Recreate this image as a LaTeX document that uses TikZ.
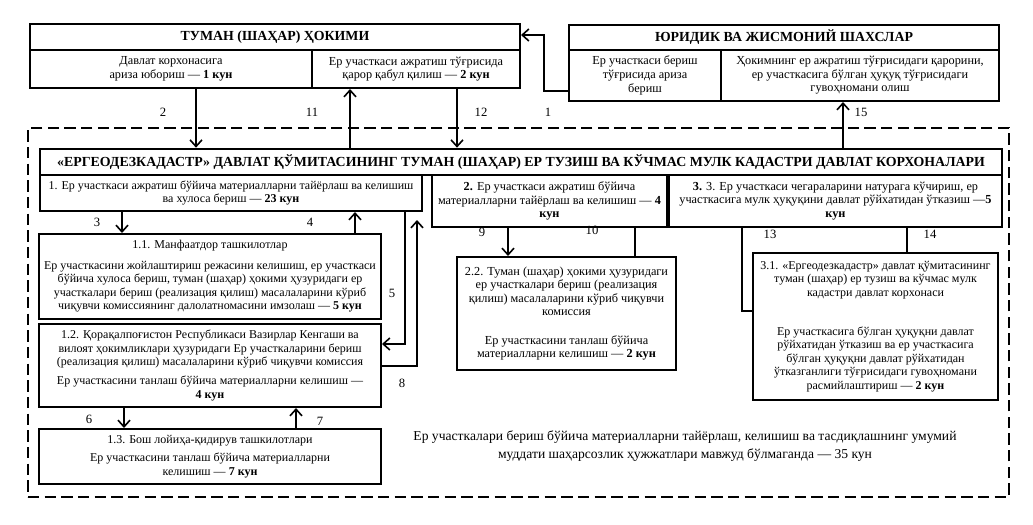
\documentclass[tikz,border=0pt]{standalone}
\usepackage{fontspec}
\setmainfont{Liberation Serif}
\usetikzlibrary{fit,arrows.meta,calc}
\begin{document}
\begin{tikzpicture}[x=0.75pt,y=-0.75pt,
  font=\fontsize{9}{10.2}\selectfont,
  box/.style={draw, line width=1.5pt, inner sep=0pt},
  txt/.style={align=center, inner sep=0pt, anchor=center},
  wtxt/.style={txt, font=\fontsize{9.2}{10.2}\selectfont},
  ttl/.style={txt, font=\fontsize{10.4}{12}\selectfont\bfseries},
  arr/.style={line width=1.2pt, -{Straight Barb[length=5pt,width=9pt,line width=1.2pt]}},
  ln/.style={line width=1.2pt},
  lbl/.style={inner sep=0pt, font=\fontsize{9.5}{11}\selectfont},
  frame/.style={draw, line width=1.5pt, dash pattern=on 8.5pt off 4pt, inner sep=0pt}]

\useasboundingbox (0,0) rectangle (1033,525);

% outer dashed frame
\node[frame, fit={(28,128)(1009,497)}] (frm) {};

% top left: district khokim
\node[box, fit={(30,24)(520,50)}] (hk) {};
\node[ttl] (hkt) at (hk.center) {ТУМАН (ШАҲАР) ҲОКИМИ};
\node[box, fit={(30,50)(312,88)}] (hk1) {};
\node[wtxt] (hk1t) at (hk1.center) {Давлат корхонасига\\ариза юбориш — \textbf{1 кун}};
\node[box, fit={(312,50)(520,88)}] (hk2) {};
\node[wtxt] (hk2t) at (hk2.center) {Ер участкаси ажратиш тўғрисида\\қарор қабул қилиш — \textbf{2 кун}};

% top right: legal and natural persons
\node[box, fit={(569,25)(999,50)}] (jr) {};
\node[ttl] (jrt) at (jr.center) {ЮРИДИК ВА ЖИСМОНИЙ ШАХСЛАР};
\node[box, fit={(569,50)(721,101)}] (jr1) {};
\node[wtxt] (jr1t) at (jr1.center) {Ер участкаси бериш\\тўғрисида ариза\\бериш};
\node[box, fit={(721,50)(999,101)}] (jr2) {};
\node[wtxt] (jr2t) at (jr2.center) {Ҳокимнинг ер ажратиш тўғрисидаги қарорини,\\ер участкасига бўлган ҳуқуқ тўғрисидаги\\гувоҳномани олиш};

% header
\node[box, line width=2pt, fit={(40,149)(1002,175)}] (hdr) {};
\node[ttl] (hdrt) at (hdr.center) {«ЕРГЕОДЕЗКАДАСТР» ДАВЛАТ ҚЎМИТАСИНИНГ ТУМАН (ШАҲАР) ЕР ТУЗИШ ВА КЎЧМАС МУЛК КАДАСТРИ ДАВЛАТ КОРХОНАЛАРИ};

% stage boxes
\node[box, fit={(40,175)(422,211)}] (b1) {};
\node[txt] (b1t) at (b1.center) {1. Ер участкаси ажратиш бўйича материалларни тайёрлаш ва келишиш\\ва хулоса бериш — \textbf{23 кун}};
\node[box, fit={(432,175)(667,227)}] (b2) {};
\node[wtxt] (b2t) at (b2.center) {\textbf{2.} Ер участкаси ажратиш бўйича\\материалларни тайёрлаш ва келишиш — \textbf{4}\\\textbf{кун}};
\node[box, fit={(669,175)(1002,227)}] (b3) {};
\node[wtxt] (b3t) at (b3.center) {\textbf{3.} 3. Ер участкаси чегараларини натурага кўчириш, ер\\участкасига мулк ҳуқуқини давлат рўйхатидан ўтказиш —\textbf{5}\\\textbf{кун}};

\node[box, fit={(39,234)(381,319)}] (b11) {};
\node[txt] (b11t) at (b11.center) {1.1. Манфаатдор ташкилотлар\\[5pt]Ер участкасини жойлаштириш режасини келишиш, ер участкаси\\бўйича хулоса бериш, туман (шаҳар) ҳокими ҳузуридаги ер\\участкалари бериш (реализация қилиш) масалаларини кўриб\\чиқувчи комиссиянинг далолатномасини имзолаш — \textbf{5 кун}};
\node[box, fit={(39,324)(381,407)}] (b12) {};
\node[txt] (b12t) at (b12.center) {1.2. Қорақалпоғистон Республикаси Вазирлар Кенгаши ва\\вилоят ҳокимликлари ҳузуридаги Ер участкаларини бериш\\(реализация қилиш) масалаларини кўриб чиқувчи комиссия\\[4pt]Ер участкасини танлаш бўйича материалларни келишиш —\\\textbf{4 кун}};
\node[box, fit={(39,429)(381,484)}] (b13) {};
\node[txt] (b13t) at (b13.center) {1.3. Бош лойиҳа-қидирув ташкилотлари\\[4pt]Ер участкасини танлаш бўйича материалларни\\келишиш — \textbf{7 кун}};

\node[box, fit={(457,257)(676,370)}] (b22) {};
\node[wtxt] (b22t) at (b22.center) {2.2. Туман (шаҳар) ҳокими ҳузуридаги\\ер участкалари бериш (реализация\\қилиш) масалаларини кўриб чиқувчи\\комиссия\\[11pt]Ер участкасини танлаш бўйича\\материалларни келишиш — \textbf{2 кун}};

\node[box, fit={(753,253)(998,400)}] (b31) {};
\node[txt] (b31t) at (b31.center) {3.1. «Ергеодезкадастр» давлат қўмитасининг\\туман (шаҳар) ер тузиш ва кўчмас мулк\\кадастри давлат корхонаси\\[19pt]Ер участкасига бўлган ҳуқуқни давлат\\рўйхатидан ўтказиш ва ер участкасига\\бўлган ҳуқуқни давлат рўйхатидан\\ўтказганлиги тўғрисидаги гувоҳномани\\расмийлаштириш — \textbf{2 кун}};

% total duration note
\node[txt, font=\fontsize{10.2}{13.2}\selectfont] (note) at (685,446) {Ер участкалари бериш бўйича материалларни тайёрлаш, келишиш ва тасдиқлашнинг умумий\\муддати шаҳарсозлик ҳужжатлари мавжуд бўлмаганда — 35 кун};

% connectors
\draw[arr] (jr1.west |- 0,91) -- (544,91) -- (544,35) -- (hk.east |- 0,35);
\draw[arr] (hk1.south -| 196,0) -- (hdr.north -| 196,0);
\draw[arr] (hdr.north -| 350,0) -- (hk2.south -| 350,0);
\draw[arr] (hk2.south -| 457,0) -- (hdr.north -| 457,0);
\draw[arr] (hdr.north -| 843,0) -- (jr2.south -| 843,0);

\draw[arr] (b1.south -| 122,0) -- (b11.north -| 122,0);
\draw[arr] (b11.north -| 355,0) -- (b1.south -| 355,0);
\draw[arr] (b1.south -| 405,0) -- (405,344) -- (b12.east |- 0,344);
\draw[arr, shorten >=6pt] (b12.east |- 0,366) -- (417,366) -- (b1.south -| 417,0);
\draw[arr] (b12.south -| 124,0) -- (b13.north -| 124,0);
\draw[arr] (b13.north -| 296,0) -- (b12.south -| 296,0);

\draw[arr] (b2.south -| 508,0) -- (b22.north -| 508,0);
\draw[ln] (b22.north -| 635,0) -- (b2.south -| 635,0);
\draw[ln] (b3.south -| 742,0) -- (742,311) -- (b31.west |- 0,311);
\draw[ln] (b3.south -| 907,0) -- (b31.north -| 907,0);

% connector numbers
\node[lbl] (n1) at (548,112) {1};
\node[lbl] (n2) at (163,112) {2};
\node[lbl] (n11) at (312,112) {11};
\node[lbl] (n12) at (481,112) {12};
\node[lbl] (n15) at (861,112) {15};
\node[lbl] (n3) at (97,222) {3};
\node[lbl] (n4) at (310,222) {4};
\node[lbl] (n5) at (392,293) {5};
\node[lbl] (n8) at (402,383) {8};
\node[lbl] (n6) at (89,419) {6};
\node[lbl] (n7) at (320,421) {7};
\node[lbl] (n9) at (482,232) {9};
\node[lbl] (n10) at (592,230) {10};
\node[lbl] (n13) at (770,234) {13};
\node[lbl] (n14) at (930,234) {14};
\end{tikzpicture}
\end{document}
